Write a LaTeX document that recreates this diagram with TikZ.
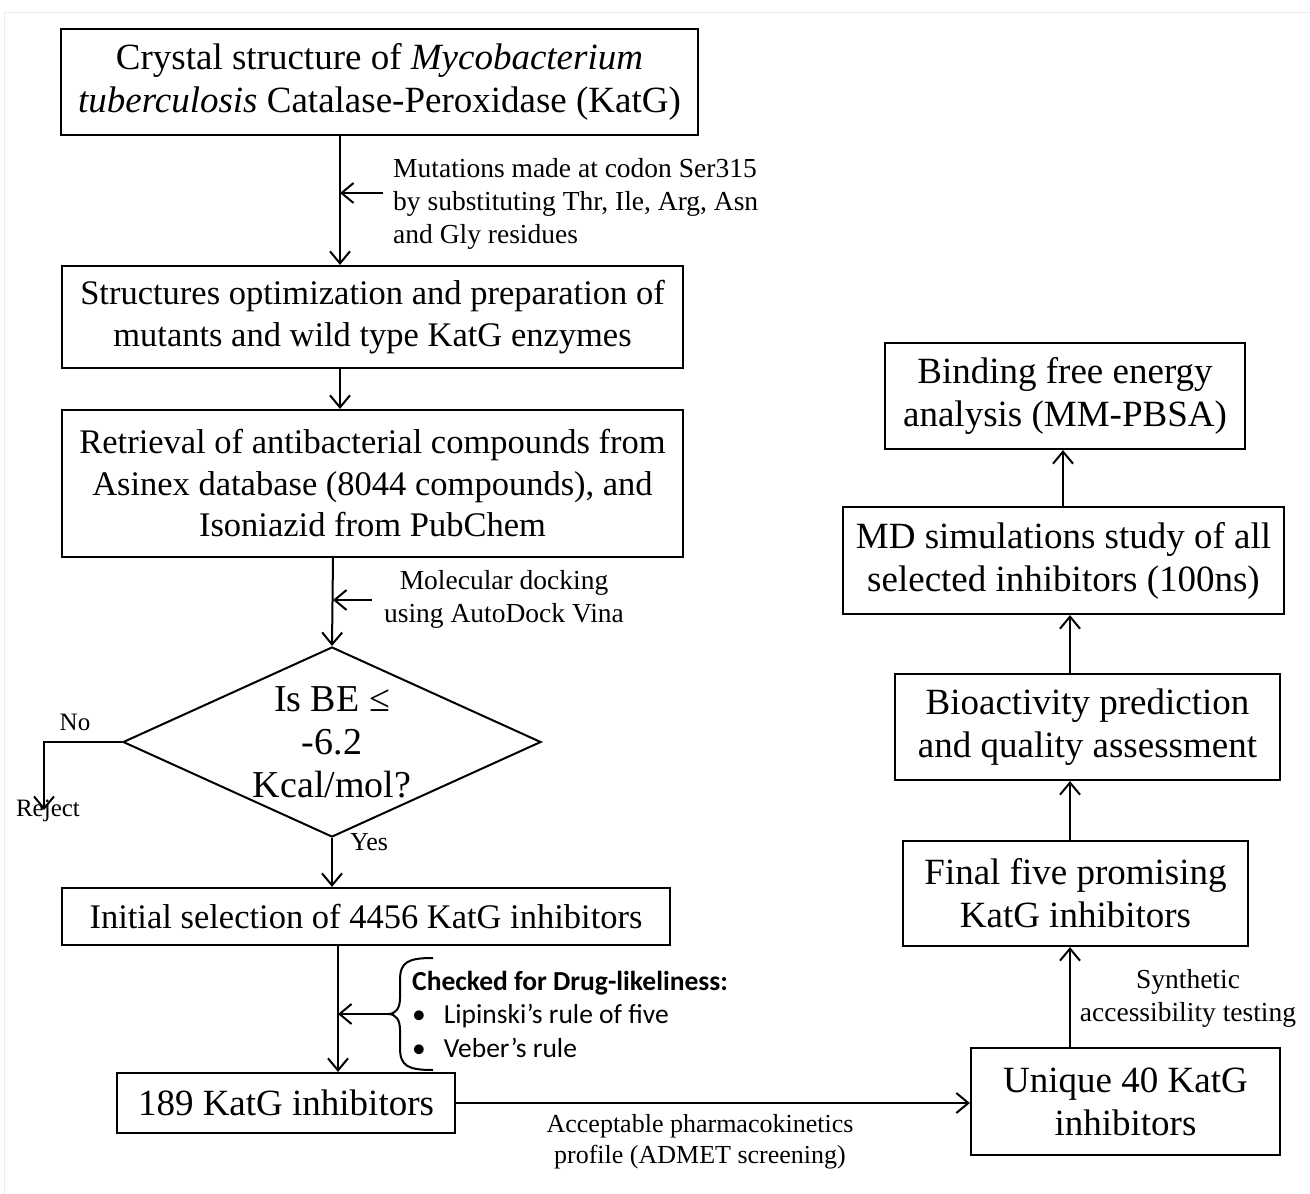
\documentclass[tikz,border=0pt]{standalone}
\usepackage{fontspec}
\setmainfont{Liberation Serif}
\newfontfamily\calibri{Carlito}
\usetikzlibrary{shapes.geometric,arrows.meta}

\begin{document}
\begin{tikzpicture}[x=1pt,y=-1pt,
        >={Straight Barb[length=12pt,width=20pt]},
        box/.style={draw,line width=2.2pt,inner sep=0pt,align=center,font=\fontsize{37}{43}\selectfont},
        boxsmall/.style={box,font=\fontsize{34.5}{41.5}\selectfont},
        decision/.style={draw,shape=diamond,line width=2pt,inner sep=0pt,minimum width=418pt,minimum height=190pt},
        lbl/.style={inner sep=0pt,align=left,font=\fontsize{27.5}{33}\selectfont},
        link/.style={line width=2pt,->}]
        \useasboundingbox (0,0) rectangle (1310,1194);
        % faint outer frame
        \draw[black!7,line width=1pt] (4,1194) -- (4,12) -- (1310,12);
        % Left column
        \node[box,minimum width=637pt,minimum height=106pt] (b1) at (379.5,82)
            {Crystal structure of \textit{Mycobacterium}\\\textit{tuberculosis} Catalase-Peroxidase (KatG)};
        \node[boxsmall,minimum width=621pt,minimum height=102pt] (b2) at (372.5,317)
            {Structures optimization and preparation of\\mutants and wild type KatG enzymes};
        \node[boxsmall,minimum width=621pt,minimum height=147pt] (b3) at (372.5,483.5)
            {Retrieval of antibacterial compounds from\\Asinex database (8044 compounds), and\\Isoniazid from PubChem};
        \node[decision] (dia) at (332,742) {};
        \node[inner sep=0pt,align=center,font=\fontsize{38}{43}\selectfont] (diatext) at (dia.center) {Is BE ≤\\-6.2\\Kcal/mol?};
        \node[boxsmall,minimum width=608pt,minimum height=57pt] (b4) at (366,916.5)
            {Initial selection of 4456 KatG inhibitors};
        \node[box,minimum width=338pt,minimum height=60pt] (b5) at (286,1103)
            {189 KatG inhibitors};
        % Right column
        \node[box,minimum width=309pt,minimum height=107pt] (b6) at (1125.5,1101.5)
            {Unique 40 KatG\\inhibitors};
        \node[box,minimum width=345pt,minimum height=105pt] (b7) at (1075.5,893.5)
            {Final five promising\\KatG inhibitors};
        \node[box,minimum width=385pt,minimum height=106pt] (b8) at (1087.5,727)
            {Bioactivity prediction\\and quality assessment};
        \node[box,minimum width=441pt,minimum height=107pt] (b9) at (1063.5,560.5)
            {MD simulations study of all\\selected inhibitors (100ns)};
        \node[box,minimum width=360pt,minimum height=106pt] (b10) at (1065,396)
            {Binding free energy\\analysis (MM-PBSA)};
        % Spines of the arrows
        \coordinate (spA) at (340,0);
        \coordinate (spB) at (333,0);
        \coordinate (spC) at (338,0);
        \coordinate (spR) at (1070,0);
        \coordinate (spS) at (1063,0);
        \draw[link] (b1.south -| spA) -- (b2.north -| spA);
        \draw[link] (b2.south -| spA) -- (b3.north -| spA);
        \draw[link] (b3.south -| spB) -- (dia.north);
        \draw[link] (dia.south) -- (b4.north -| dia.south);
        \draw[link] (b4.south -| spC) -- (b5.north -| spC);
        \draw[link] (b5.east) -- (b6.west |- b5.east);
        \draw[link] (b6.north -| spR) -- (b7.south -| spR);
        \draw[link] (b7.north -| spR) -- (b8.south -| spR);
        \draw[link] (b8.north -| spR) -- (b9.south -| spR);
        \draw[link] (b9.north -| spS) -- (b10.south -| spS);
        % Side notes
        \coordinate (mutin) at (383,193);
        \draw[link] (mutin) -- (mutin -| spA);
        \node[lbl,anchor=west] (mut) at (393,204)
            {Mutations made at codon Ser315\\by substituting Thr, Ile, Arg, Asn\\and Gly residues};
        \coordinate (dockin) at (372,600);
        \draw[link] (dockin) -- (dockin -| spB);
        \node[lbl,align=center] (dock) at (504,599) {Molecular docking\\using AutoDock Vina};
        \coordinate (rej) at (44,810);
        \draw[link] (dia.west) -- (dia.west -| rej) -- (rej);
        \node[lbl,anchor=south,font=\fontsize{25}{30}\selectfont] (no) at (75,731) {No};
        \node[lbl,anchor=north,font=\fontsize{25}{30}\selectfont] (reject) at (48,800) {Reject};
        \node[lbl,anchor=west,font=\fontsize{26}{30}\selectfont] (yes) at (350,842) {Yes};
        % Drug-likeliness brace
        \draw[line width=2pt] (433,958) .. controls (408,958) and (400,962) .. (400,980)
            -- (400,998) .. controls (400,1008) and (396,1014) .. (388,1014)
            .. controls (396,1014) and (400,1020) .. (400,1030) -- (400,1048)
            .. controls (400,1066) and (408,1070) .. (433,1070);
        \coordinate (brtip) at (388,1014);
        \draw[link] (brtip) -- (brtip -| spC);
        \node[lbl,anchor=west,font=\calibri\fontsize{27.5}{33.5}\selectfont] (drug) at (412,1014)
            {\textbf{Checked for Drug-likeliness:}\\\textbullet\hspace{18pt}Lipinski’s rule of five\\\textbullet\hspace{18pt}Veber’s rule};
        \node[lbl,align=center,font=\fontsize{26}{31}\selectfont] (admet) at (700,1142) {Acceptable pharmacokinetics\\profile (ADMET screening)};
        \node[lbl,align=center] (synth) at (1188,998) {Synthetic\\accessibility testing};
    \end{tikzpicture}
\end{document}
